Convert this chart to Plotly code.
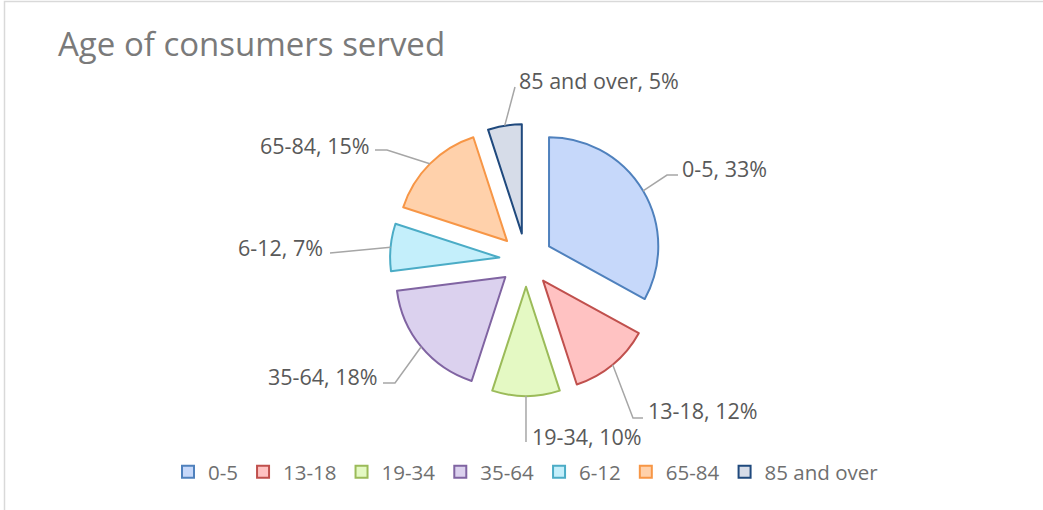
import math
import plotly.graph_objects as go

# ---- data ----
labels = ["0-5", "13-18", "19-34", "35-64", "6-12", "65-84", "85 and over"]
values = [33, 12, 10, 18, 7, 15, 5]
title_text = "Age of consumers served"

# ---- styles ----
fill_colors = ["#c6d8fa", "#ffc2c2", "#e4f9c3", "#dbd1ee", "#c4effb", "#ffd1ab", "#d6dce8"]
line_colors = ["#4f81bd", "#c0504d", "#9bbb59", "#8064a2", "#4bacc6", "#f79646", "#1f497d"]

W, H = 1043, 510
CX, CY = 526, 260      # pie centre (px)
R = 136                # outer extent incl. pull (px)
PULL = 0.245

FONT = "Open Sans"
LABEL_COLOR = "#595959"
LINE_COLOR = "#a6a6a6"

# label text anchor (px) and leader-line bend points (px)
label_layout = [
    (680, 169, "left",  [(667, 175), (678, 175)]),
    (646, 410, "left",  [(633, 418), (643, 418)]),
    (530, 436, "left",  [(526, 442)]),
    (380, 376, "right", [(395, 383), (383, 383)]),
    (325, 247, "right", [(330, 253)]),
    (372, 145, "right", [(387, 150), (375, 150)]),
    (517, 80,  "left",  [(515, 87)]),
]


def px(x):
    return x / W


def py(y):
    return 1 - y / H


fig = go.Figure(go.Pie(
    labels=labels,
    values=values,
    sort=False,
    direction="clockwise",
    rotation=0,
    pull=[PULL] * len(values),
    textinfo="none",
    marker=dict(colors=fill_colors, line=dict(color=line_colors, width=2)),
    domain=dict(x=[px(CX - R), px(CX + R)], y=[py(CY + R), py(CY - R)]),
    hovertemplate="%{label}: %{value}%<extra></extra>",
))

total = sum(values)
cum = 0
annotations = []
shapes = []
for lab, v, (tx, ty, anchor, bends) in zip(labels, values, label_layout):
    mid = (cum + v / 2) / total * 2 * math.pi
    cum += v
    sx = CX + R * math.sin(mid)
    sy = CY - R * math.cos(mid)
    pts = [(sx, sy)] + bends
    path = "M " + " L ".join(f"{px(a):.5f},{py(b):.5f}" for a, b in pts)
    shapes.append(dict(type="path", path=path, xref="paper", yref="paper",
                       line=dict(color=LINE_COLOR, width=1.5)))
    pct = round(v / total * 100)
    annotations.append(dict(
        text=f"{lab}, {pct}%", x=px(tx), y=py(ty), xref="paper", yref="paper",
        xanchor=anchor, yanchor="middle", showarrow=False,
        font=dict(family=FONT, size=21.5, color=LABEL_COLOR)))

# chart-area border
shapes.append(dict(type="rect", xref="paper", yref="paper",
                   x0=px(4.5), x1=1.05, y0=-0.05, y1=py(1.5),
                   line=dict(color="#d9d9d9", width=1.5)))

fig.update_layout(
    width=W, height=H, autosize=False,
    margin=dict(l=0, r=0, t=0, b=0),
    paper_bgcolor="white", plot_bgcolor="white",
    title=dict(text=title_text, x=px(58), xanchor="left", y=py(44.5), yanchor="middle",
               font=dict(family=FONT, size=33, color="#7a7a7a")),
    showlegend=True,
    legend=dict(orientation="h", x=px(168), xanchor="left", y=py(472), yanchor="middle",
                font=dict(family=FONT, size=20.5, color="#6f6f6f"),
                bgcolor="rgba(0,0,0,0)"),
    annotations=annotations,
    shapes=shapes,
)

fig.write_html(
    "out.html",
    config={"displayModeBar": False},
    post_script="document.body.style.margin='0';document.body.style.overflow='hidden';",
)
